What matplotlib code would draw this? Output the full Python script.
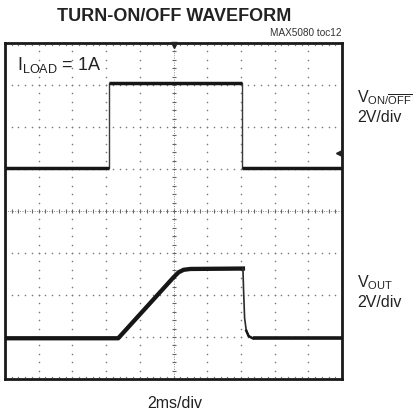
import numpy as np
import matplotlib
matplotlib.use("Agg")
import matplotlib.pyplot as plt

plt.rcParams['font.family'] = ['Liberation Sans', 'DejaVu Sans']
plt.rcParams['mathtext.fontset'] = 'custom'
plt.rcParams['mathtext.rm'] = 'Liberation Sans'
plt.rcParams['mathtext.it'] = 'Liberation Sans'
plt.rcParams['mathtext.default'] = 'regular'

# ---- data (time in divisions, 2 ms/div; level in screen divisions) ----
von_t = [0.0, 3.10, 3.10, 7.02, 7.02, 10.0]
von_v = [5.02, 5.02, 7.05, 7.05, 5.02, 5.02]

vout_t = [0.0, 3.36, 5.00, 5.15, 5.30, 5.50, 7.06, 7.08, 7.11, 7.16, 7.23, 7.35, 10.0]
vout_v = [0.97, 0.97, 2.42, 2.54, 2.60, 2.62, 2.63, 2.10, 1.45, 1.15, 1.02, 0.97, 0.97]

n_xdiv = 10
n_ydiv = 8

W, H = 416, 413
fig = plt.figure(figsize=(W / 100, H / 100), dpi=100)
ax = fig.add_axes([5 / W, 1 - 379 / H, 337 / W, 336 / H])
ax.set_xlim(0, n_xdiv)
ax.set_ylim(0, n_ydiv)
ax.set_xticks([])
ax.set_yticks([])
for s in ax.spines.values():
    s.set_linewidth(2.0)
    s.set_color('#1a1a1a')

# dotted graticule
gcol = '#7a7a7a'
xm = np.arange(0, n_xdiv + 0.001, 0.2)
ym = np.arange(0, n_ydiv + 0.001, 0.2)
for yk in range(1, n_ydiv):
    if yk == n_ydiv // 2:
        continue
    ax.scatter(xm, np.full_like(xm, yk), s=1.3, color=gcol, linewidths=0, zorder=1)
for xk in range(1, n_xdiv):
    if xk == n_xdiv // 2:
        continue
    ax.scatter(np.full_like(ym, xk), ym, s=1.3, color=gcol, linewidths=0, zorder=1)
# centre crosshair with minor ticks
ax.axvline(n_xdiv / 2, color='#8a8a8a', lw=0.7, ls=(0, (1, 1.5)), zorder=1)
ax.axhline(n_ydiv / 2, color='#8a8a8a', lw=0.7, ls=(0, (1, 1.5)), zorder=1)
ax.scatter(np.full_like(ym, n_xdiv / 2), ym, marker='_', s=10, color='#666666', linewidths=0.8, zorder=1)
ax.scatter(xm, np.full_like(xm, n_ydiv / 2), marker='|', s=10, color='#666666', linewidths=0.8, zorder=1)
# edge ticks
ax.scatter(xm, np.full_like(xm, n_ydiv - 0.04), s=1.0, color=gcol, linewidths=0, zorder=1)
ax.scatter(xm, np.full_like(xm, 0.04), s=1.0, color=gcol, linewidths=0, zorder=1)

# traces: thin full trace, thick flat segments
tcol = '#161616'
ax.plot(von_t, von_v, color='#3a3a3a', lw=1.0, zorder=3)
for i in range(len(von_t) - 1):
    if von_v[i] == von_v[i + 1]:
        ax.plot(von_t[i:i + 2], von_v[i:i + 2], color=tcol, lw=2.5,
                solid_capstyle='butt', zorder=4)
ax.plot(vout_t[:7], vout_v[:7], color=tcol, lw=3.1, solid_joinstyle='round', zorder=4)
ax.plot(vout_t[6:], vout_v[6:], color='#2a2a2a', lw=1.2, zorder=4)
ax.plot(vout_t[-2:], vout_v[-2:], color=tcol, lw=2.6, solid_capstyle='butt', zorder=4)
ax.plot(vout_t[9:-1], vout_v[9:-1], color=tcol, lw=1.8, zorder=4)

# trigger markers
ax.plot([n_xdiv / 2], [n_ydiv - 0.05], marker='v', ms=4.5, color='#222222', clip_on=False, zorder=5)
ax.plot([n_xdiv - 0.08], [5.38], marker='<', ms=4, color='#222222', clip_on=False, zorder=5)


def fx(px):
    return px / W


def fy(py):
    return 1 - py / H


fig.text(fx(174), fy(20.7), 'TURN-ON/OFF WAVEFORM', fontsize=13, fontweight='bold',
         ha='center', va='baseline', color='#222222')
fig.text(fx(342), fy(35.5), 'MAX5080 toc12', fontsize=7.2, ha='right', va='baseline', color='#333333')
fig.text(fx(17), fy(70), r'$I_{LOAD}$ = 1A', fontsize=13, ha='left', va='baseline', color='#222222')
fig.text(fx(357), fy(102), r'$V_{ON/\overline{OFF}}$', fontsize=11.5, ha='left', va='baseline', color='#222222')
fig.text(fx(357), fy(122), '2V/div', fontsize=11.5, ha='left', va='baseline', color='#222222')
fig.text(fx(357), fy(287), r'$V_{OUT}$', fontsize=11.5, ha='left', va='baseline', color='#222222')
fig.text(fx(357), fy(307), '2V/div', fontsize=11.5, ha='left', va='baseline', color='#222222')
fig.text(fx(175), fy(408), '2ms/div', fontsize=11.5, ha='center', va='baseline', color='#222222')

fig.savefig('out.png', dpi=100)
